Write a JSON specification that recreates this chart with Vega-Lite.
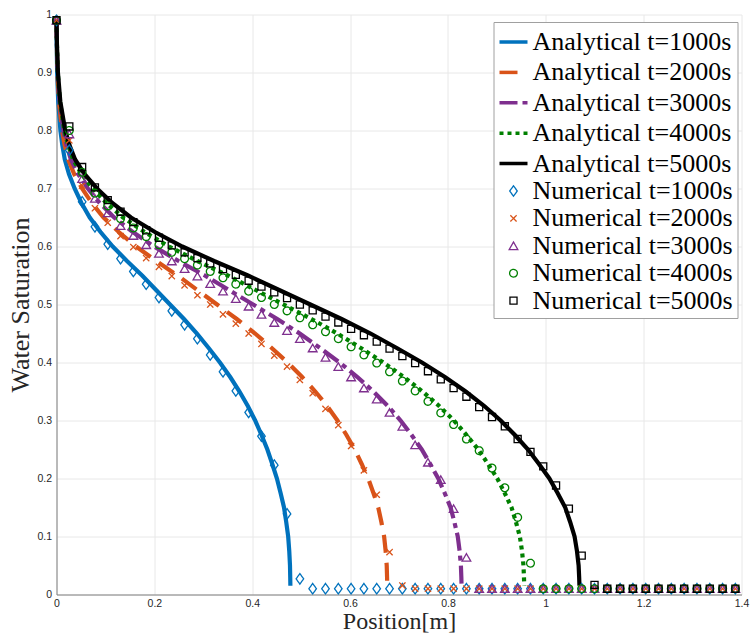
{
  "$schema": "https://vega.github.io/schema/vega-lite/v6.json",
  "width": 685,
  "height": 580,
  "autosize": "none",
  "padding": {"left": 56.5, "top": 14.5, "right": 9.5, "bottom": 41},
  "background": "white",
  "config": {
    "view": {"stroke": null},
    "legend": {
      "orient": "none", "legendX": 437, "legendY": 7.5,
      "labelFont": "Liberation Serif", "labelFontSize": 26, "labelColor": "black",
      "strokeColor": "#a0a0a0", "fillColor": "white", "padding": 4, "rowPadding": 1.4,
      "labelOffset": 3, "labelLimit": 400
    }
  },
  "datasets": {
    "ana": [
      {"k":"Analytical t=1000s","x":0,"s":0.99},{"k":"Analytical t=1000s","x":0.0004,"s":0.95},{"k":"Analytical t=1000s","x":0.0013,"s":0.9},{"k":"Analytical t=1000s","x":0.0035,"s":0.85},{"k":"Analytical t=1000s","x":0.008,"s":0.8},{"k":"Analytical t=1000s","x":0.0118,"s":0.775},{"k":"Analytical t=1000s","x":0.017,"s":0.75},{"k":"Analytical t=1000s","x":0.0255,"s":0.725},{"k":"Analytical t=1000s","x":0.037,"s":0.7},{"k":"Analytical t=1000s","x":0.051,"s":0.675},{"k":"Analytical t=1000s","x":0.068,"s":0.65},{"k":"Analytical t=1000s","x":0.09,"s":0.625},{"k":"Analytical t=1000s","x":0.115,"s":0.6},{"k":"Analytical t=1000s","x":0.144,"s":0.575},{"k":"Analytical t=1000s","x":0.175,"s":0.55},{"k":"Analytical t=1000s","x":0.2035,"s":0.525},{"k":"Analytical t=1000s","x":0.232,"s":0.5},{"k":"Analytical t=1000s","x":0.2605,"s":0.475},{"k":"Analytical t=1000s","x":0.287,"s":0.45},{"k":"Analytical t=1000s","x":0.311,"s":0.425},{"k":"Analytical t=1000s","x":0.334,"s":0.4},{"k":"Analytical t=1000s","x":0.355,"s":0.375},{"k":"Analytical t=1000s","x":0.374,"s":0.35},{"k":"Analytical t=1000s","x":0.391,"s":0.325},{"k":"Analytical t=1000s","x":0.406,"s":0.3},{"k":"Analytical t=1000s","x":0.419,"s":0.275},{"k":"Analytical t=1000s","x":0.431,"s":0.25},{"k":"Analytical t=1000s","x":0.441,"s":0.225},{"k":"Analytical t=1000s","x":0.4505,"s":0.2},{"k":"Analytical t=1000s","x":0.458,"s":0.175},{"k":"Analytical t=1000s","x":0.465,"s":0.15},{"k":"Analytical t=1000s","x":0.4695,"s":0.125},{"k":"Analytical t=1000s","x":0.4735,"s":0.1},{"k":"Analytical t=1000s","x":0.4757,"s":0.075},{"k":"Analytical t=1000s","x":0.4772,"s":0.05},{"k":"Analytical t=1000s","x":0.4777,"s":0.03},{"k":"Analytical t=1000s","x":0.478,"s":0.015},
      {"k":"Analytical t=2000s","x":0,"s":0.99},{"k":"Analytical t=2000s","x":0.0006,"s":0.95},{"k":"Analytical t=2000s","x":0.0018,"s":0.9},{"k":"Analytical t=2000s","x":0.0049,"s":0.85},{"k":"Analytical t=2000s","x":0.0113,"s":0.8},{"k":"Analytical t=2000s","x":0.0167,"s":0.775},{"k":"Analytical t=2000s","x":0.024,"s":0.75},{"k":"Analytical t=2000s","x":0.0361,"s":0.725},{"k":"Analytical t=2000s","x":0.0523,"s":0.7},{"k":"Analytical t=2000s","x":0.0721,"s":0.675},{"k":"Analytical t=2000s","x":0.0962,"s":0.65},{"k":"Analytical t=2000s","x":0.1273,"s":0.625},{"k":"Analytical t=2000s","x":0.1626,"s":0.6},{"k":"Analytical t=2000s","x":0.2036,"s":0.575},{"k":"Analytical t=2000s","x":0.2475,"s":0.55},{"k":"Analytical t=2000s","x":0.2878,"s":0.525},{"k":"Analytical t=2000s","x":0.3281,"s":0.5},{"k":"Analytical t=2000s","x":0.3684,"s":0.475},{"k":"Analytical t=2000s","x":0.4059,"s":0.45},{"k":"Analytical t=2000s","x":0.4398,"s":0.425},{"k":"Analytical t=2000s","x":0.4723,"s":0.4},{"k":"Analytical t=2000s","x":0.502,"s":0.375},{"k":"Analytical t=2000s","x":0.5289,"s":0.35},{"k":"Analytical t=2000s","x":0.553,"s":0.325},{"k":"Analytical t=2000s","x":0.5742,"s":0.3},{"k":"Analytical t=2000s","x":0.5926,"s":0.275},{"k":"Analytical t=2000s","x":0.6095,"s":0.25},{"k":"Analytical t=2000s","x":0.6237,"s":0.225},{"k":"Analytical t=2000s","x":0.6371,"s":0.2},{"k":"Analytical t=2000s","x":0.6477,"s":0.175},{"k":"Analytical t=2000s","x":0.6576,"s":0.15},{"k":"Analytical t=2000s","x":0.664,"s":0.125},{"k":"Analytical t=2000s","x":0.6696,"s":0.1},{"k":"Analytical t=2000s","x":0.6727,"s":0.075},{"k":"Analytical t=2000s","x":0.6749,"s":0.05},{"k":"Analytical t=2000s","x":0.6756,"s":0.03},{"k":"Analytical t=2000s","x":0.676,"s":0.015},
      {"k":"Analytical t=3000s","x":0,"s":0.99},{"k":"Analytical t=3000s","x":0.0007,"s":0.95},{"k":"Analytical t=3000s","x":0.0023,"s":0.9},{"k":"Analytical t=3000s","x":0.0061,"s":0.85},{"k":"Analytical t=3000s","x":0.0139,"s":0.8},{"k":"Analytical t=3000s","x":0.0204,"s":0.775},{"k":"Analytical t=3000s","x":0.0294,"s":0.75},{"k":"Analytical t=3000s","x":0.0442,"s":0.725},{"k":"Analytical t=3000s","x":0.0641,"s":0.7},{"k":"Analytical t=3000s","x":0.0883,"s":0.675},{"k":"Analytical t=3000s","x":0.1178,"s":0.65},{"k":"Analytical t=3000s","x":0.1559,"s":0.625},{"k":"Analytical t=3000s","x":0.1992,"s":0.6},{"k":"Analytical t=3000s","x":0.2494,"s":0.575},{"k":"Analytical t=3000s","x":0.3031,"s":0.55},{"k":"Analytical t=3000s","x":0.3525,"s":0.525},{"k":"Analytical t=3000s","x":0.4018,"s":0.5},{"k":"Analytical t=3000s","x":0.4512,"s":0.475},{"k":"Analytical t=3000s","x":0.4971,"s":0.45},{"k":"Analytical t=3000s","x":0.5387,"s":0.425},{"k":"Analytical t=3000s","x":0.5785,"s":0.4},{"k":"Analytical t=3000s","x":0.6149,"s":0.375},{"k":"Analytical t=3000s","x":0.6478,"s":0.35},{"k":"Analytical t=3000s","x":0.6772,"s":0.325},{"k":"Analytical t=3000s","x":0.7032,"s":0.3},{"k":"Analytical t=3000s","x":0.7257,"s":0.275},{"k":"Analytical t=3000s","x":0.7465,"s":0.25},{"k":"Analytical t=3000s","x":0.7638,"s":0.225},{"k":"Analytical t=3000s","x":0.7803,"s":0.2},{"k":"Analytical t=3000s","x":0.7933,"s":0.175},{"k":"Analytical t=3000s","x":0.8054,"s":0.15},{"k":"Analytical t=3000s","x":0.8132,"s":0.125},{"k":"Analytical t=3000s","x":0.8201,"s":0.1},{"k":"Analytical t=3000s","x":0.8239,"s":0.075},{"k":"Analytical t=3000s","x":0.8265,"s":0.05},{"k":"Analytical t=3000s","x":0.8274,"s":0.03},{"k":"Analytical t=3000s","x":0.8279,"s":0.015},
      {"k":"Analytical t=4000s","x":0,"s":0.99},{"k":"Analytical t=4000s","x":0.0008,"s":0.95},{"k":"Analytical t=4000s","x":0.0026,"s":0.9},{"k":"Analytical t=4000s","x":0.007,"s":0.85},{"k":"Analytical t=4000s","x":0.016,"s":0.8},{"k":"Analytical t=4000s","x":0.0236,"s":0.775},{"k":"Analytical t=4000s","x":0.034,"s":0.75},{"k":"Analytical t=4000s","x":0.051,"s":0.725},{"k":"Analytical t=4000s","x":0.074,"s":0.7},{"k":"Analytical t=4000s","x":0.102,"s":0.675},{"k":"Analytical t=4000s","x":0.136,"s":0.65},{"k":"Analytical t=4000s","x":0.18,"s":0.625},{"k":"Analytical t=4000s","x":0.23,"s":0.6},{"k":"Analytical t=4000s","x":0.288,"s":0.575},{"k":"Analytical t=4000s","x":0.35,"s":0.55},{"k":"Analytical t=4000s","x":0.407,"s":0.525},{"k":"Analytical t=4000s","x":0.464,"s":0.5},{"k":"Analytical t=4000s","x":0.521,"s":0.475},{"k":"Analytical t=4000s","x":0.574,"s":0.45},{"k":"Analytical t=4000s","x":0.622,"s":0.425},{"k":"Analytical t=4000s","x":0.668,"s":0.4},{"k":"Analytical t=4000s","x":0.71,"s":0.375},{"k":"Analytical t=4000s","x":0.748,"s":0.35},{"k":"Analytical t=4000s","x":0.782,"s":0.325},{"k":"Analytical t=4000s","x":0.812,"s":0.3},{"k":"Analytical t=4000s","x":0.838,"s":0.275},{"k":"Analytical t=4000s","x":0.862,"s":0.25},{"k":"Analytical t=4000s","x":0.882,"s":0.225},{"k":"Analytical t=4000s","x":0.901,"s":0.2},{"k":"Analytical t=4000s","x":0.916,"s":0.175},{"k":"Analytical t=4000s","x":0.93,"s":0.15},{"k":"Analytical t=4000s","x":0.939,"s":0.125},{"k":"Analytical t=4000s","x":0.947,"s":0.1},{"k":"Analytical t=4000s","x":0.9514,"s":0.075},{"k":"Analytical t=4000s","x":0.9544,"s":0.05},{"k":"Analytical t=4000s","x":0.9554,"s":0.03},{"k":"Analytical t=4000s","x":0.956,"s":0.015},
      {"k":"Analytical t=5000s","x":0,"s":0.99},{"k":"Analytical t=5000s","x":0.0009,"s":0.95},{"k":"Analytical t=5000s","x":0.0029,"s":0.9},{"k":"Analytical t=5000s","x":0.0078,"s":0.85},{"k":"Analytical t=5000s","x":0.0179,"s":0.8},{"k":"Analytical t=5000s","x":0.0264,"s":0.775},{"k":"Analytical t=5000s","x":0.038,"s":0.75},{"k":"Analytical t=5000s","x":0.057,"s":0.725},{"k":"Analytical t=5000s","x":0.0827,"s":0.7},{"k":"Analytical t=5000s","x":0.114,"s":0.675},{"k":"Analytical t=5000s","x":0.1521,"s":0.65},{"k":"Analytical t=5000s","x":0.2012,"s":0.625},{"k":"Analytical t=5000s","x":0.2571,"s":0.6},{"k":"Analytical t=5000s","x":0.322,"s":0.575},{"k":"Analytical t=5000s","x":0.3913,"s":0.55},{"k":"Analytical t=5000s","x":0.455,"s":0.525},{"k":"Analytical t=5000s","x":0.5188,"s":0.5},{"k":"Analytical t=5000s","x":0.5825,"s":0.475},{"k":"Analytical t=5000s","x":0.6418,"s":0.45},{"k":"Analytical t=5000s","x":0.6954,"s":0.425},{"k":"Analytical t=5000s","x":0.7469,"s":0.4},{"k":"Analytical t=5000s","x":0.7938,"s":0.375},{"k":"Analytical t=5000s","x":0.8363,"s":0.35},{"k":"Analytical t=5000s","x":0.8743,"s":0.325},{"k":"Analytical t=5000s","x":0.9078,"s":0.3},{"k":"Analytical t=5000s","x":0.9369,"s":0.275},{"k":"Analytical t=5000s","x":0.9637,"s":0.25},{"k":"Analytical t=5000s","x":0.9861,"s":0.225},{"k":"Analytical t=5000s","x":1.0073,"s":0.2},{"k":"Analytical t=5000s","x":1.0241,"s":0.175},{"k":"Analytical t=5000s","x":1.0398,"s":0.15},{"k":"Analytical t=5000s","x":1.0498,"s":0.125},{"k":"Analytical t=5000s","x":1.0588,"s":0.1},{"k":"Analytical t=5000s","x":1.0637,"s":0.075},{"k":"Analytical t=5000s","x":1.0671,"s":0.05},{"k":"Analytical t=5000s","x":1.0682,"s":0.03},{"k":"Analytical t=5000s","x":1.0688,"s":0.015}
    ],
    "num": [
      {"k":"Numerical t=1000s","x":0,"s":0.99},{"k":"Numerical t=1000s","x":0.0262,"s":0.766},{"k":"Numerical t=1000s","x":0.0524,"s":0.677},{"k":"Numerical t=1000s","x":0.0785,"s":0.634},{"k":"Numerical t=1000s","x":0.1047,"s":0.604},{"k":"Numerical t=1000s","x":0.1309,"s":0.579},{"k":"Numerical t=1000s","x":0.1571,"s":0.557},{"k":"Numerical t=1000s","x":0.1833,"s":0.535},{"k":"Numerical t=1000s","x":0.2094,"s":0.512},{"k":"Numerical t=1000s","x":0.2356,"s":0.489},{"k":"Numerical t=1000s","x":0.2618,"s":0.465},{"k":"Numerical t=1000s","x":0.288,"s":0.441},{"k":"Numerical t=1000s","x":0.3142,"s":0.413},{"k":"Numerical t=1000s","x":0.3403,"s":0.384},{"k":"Numerical t=1000s","x":0.3665,"s":0.351},{"k":"Numerical t=1000s","x":0.3927,"s":0.314},{"k":"Numerical t=1000s","x":0.4189,"s":0.273},{"k":"Numerical t=1000s","x":0.4451,"s":0.223},{"k":"Numerical t=1000s","x":0.4712,"s":0.139},{"k":"Numerical t=1000s","x":0.4974,"s":0.027},{"k":"Numerical t=1000s","x":0.5236,"s":0.01},{"k":"Numerical t=1000s","x":0.5498,"s":0.01},{"k":"Numerical t=1000s","x":0.576,"s":0.01},{"k":"Numerical t=1000s","x":0.6021,"s":0.01},{"k":"Numerical t=1000s","x":0.6283,"s":0.01},{"k":"Numerical t=1000s","x":0.6545,"s":0.01},{"k":"Numerical t=1000s","x":0.6807,"s":0.01},{"k":"Numerical t=1000s","x":0.7069,"s":0.01},{"k":"Numerical t=1000s","x":0.733,"s":0.01},{"k":"Numerical t=1000s","x":0.7592,"s":0.01},{"k":"Numerical t=1000s","x":0.7854,"s":0.01},{"k":"Numerical t=1000s","x":0.8116,"s":0.01},{"k":"Numerical t=1000s","x":0.8378,"s":0.01},{"k":"Numerical t=1000s","x":0.8639,"s":0.01},{"k":"Numerical t=1000s","x":0.8901,"s":0.01},{"k":"Numerical t=1000s","x":0.9163,"s":0.01},{"k":"Numerical t=1000s","x":0.9425,"s":0.01},{"k":"Numerical t=1000s","x":0.9687,"s":0.01},{"k":"Numerical t=1000s","x":0.9948,"s":0.01},{"k":"Numerical t=1000s","x":1.021,"s":0.01},{"k":"Numerical t=1000s","x":1.0472,"s":0.01},{"k":"Numerical t=1000s","x":1.0734,"s":0.01},{"k":"Numerical t=1000s","x":1.0996,"s":0.01},{"k":"Numerical t=1000s","x":1.1257,"s":0.01},{"k":"Numerical t=1000s","x":1.1519,"s":0.01},{"k":"Numerical t=1000s","x":1.1781,"s":0.01},{"k":"Numerical t=1000s","x":1.2043,"s":0.01},{"k":"Numerical t=1000s","x":1.2305,"s":0.01},{"k":"Numerical t=1000s","x":1.2566,"s":0.01},{"k":"Numerical t=1000s","x":1.2828,"s":0.01},{"k":"Numerical t=1000s","x":1.309,"s":0.01},{"k":"Numerical t=1000s","x":1.3352,"s":0.01},{"k":"Numerical t=1000s","x":1.3614,"s":0.01},{"k":"Numerical t=1000s","x":1.3875,"s":0.01},
      {"k":"Numerical t=2000s","x":0,"s":0.99},{"k":"Numerical t=2000s","x":0.0262,"s":0.783},{"k":"Numerical t=2000s","x":0.0524,"s":0.705},{"k":"Numerical t=2000s","x":0.0785,"s":0.666},{"k":"Numerical t=2000s","x":0.1047,"s":0.641},{"k":"Numerical t=2000s","x":0.1309,"s":0.618},{"k":"Numerical t=2000s","x":0.1571,"s":0.599},{"k":"Numerical t=2000s","x":0.1833,"s":0.58},{"k":"Numerical t=2000s","x":0.2094,"s":0.565},{"k":"Numerical t=2000s","x":0.2356,"s":0.549},{"k":"Numerical t=2000s","x":0.2618,"s":0.533},{"k":"Numerical t=2000s","x":0.288,"s":0.516},{"k":"Numerical t=2000s","x":0.3142,"s":0.5},{"k":"Numerical t=2000s","x":0.3403,"s":0.483},{"k":"Numerical t=2000s","x":0.3665,"s":0.467},{"k":"Numerical t=2000s","x":0.3927,"s":0.45},{"k":"Numerical t=2000s","x":0.4189,"s":0.432},{"k":"Numerical t=2000s","x":0.4451,"s":0.412},{"k":"Numerical t=2000s","x":0.4712,"s":0.393},{"k":"Numerical t=2000s","x":0.4974,"s":0.37},{"k":"Numerical t=2000s","x":0.5236,"s":0.347},{"k":"Numerical t=2000s","x":0.5498,"s":0.32},{"k":"Numerical t=2000s","x":0.576,"s":0.292},{"k":"Numerical t=2000s","x":0.6021,"s":0.256},{"k":"Numerical t=2000s","x":0.6283,"s":0.214},{"k":"Numerical t=2000s","x":0.6545,"s":0.172},{"k":"Numerical t=2000s","x":0.6807,"s":0.073},{"k":"Numerical t=2000s","x":0.7069,"s":0.0155},{"k":"Numerical t=2000s","x":0.733,"s":0.01},{"k":"Numerical t=2000s","x":0.7592,"s":0.01},{"k":"Numerical t=2000s","x":0.7854,"s":0.01},{"k":"Numerical t=2000s","x":0.8116,"s":0.01},{"k":"Numerical t=2000s","x":0.8378,"s":0.01},{"k":"Numerical t=2000s","x":0.8639,"s":0.01},{"k":"Numerical t=2000s","x":0.8901,"s":0.01},{"k":"Numerical t=2000s","x":0.9163,"s":0.01},{"k":"Numerical t=2000s","x":0.9425,"s":0.01},{"k":"Numerical t=2000s","x":0.9687,"s":0.01},{"k":"Numerical t=2000s","x":0.9948,"s":0.01},{"k":"Numerical t=2000s","x":1.021,"s":0.01},{"k":"Numerical t=2000s","x":1.0472,"s":0.01},{"k":"Numerical t=2000s","x":1.0734,"s":0.01},{"k":"Numerical t=2000s","x":1.0996,"s":0.01},{"k":"Numerical t=2000s","x":1.1257,"s":0.01},{"k":"Numerical t=2000s","x":1.1519,"s":0.01},{"k":"Numerical t=2000s","x":1.1781,"s":0.01},{"k":"Numerical t=2000s","x":1.2043,"s":0.01},{"k":"Numerical t=2000s","x":1.2305,"s":0.01},{"k":"Numerical t=2000s","x":1.2566,"s":0.01},{"k":"Numerical t=2000s","x":1.2828,"s":0.01},{"k":"Numerical t=2000s","x":1.309,"s":0.01},{"k":"Numerical t=2000s","x":1.3352,"s":0.01},{"k":"Numerical t=2000s","x":1.3614,"s":0.01},{"k":"Numerical t=2000s","x":1.3875,"s":0.01},
      {"k":"Numerical t=3000s","x":0,"s":0.99},{"k":"Numerical t=3000s","x":0.0262,"s":0.794},{"k":"Numerical t=3000s","x":0.0524,"s":0.717},{"k":"Numerical t=3000s","x":0.0785,"s":0.683},{"k":"Numerical t=3000s","x":0.1047,"s":0.658},{"k":"Numerical t=3000s","x":0.1309,"s":0.636},{"k":"Numerical t=3000s","x":0.1571,"s":0.619},{"k":"Numerical t=3000s","x":0.1833,"s":0.603},{"k":"Numerical t=3000s","x":0.2094,"s":0.588},{"k":"Numerical t=3000s","x":0.2356,"s":0.575},{"k":"Numerical t=3000s","x":0.2618,"s":0.562},{"k":"Numerical t=3000s","x":0.288,"s":0.549},{"k":"Numerical t=3000s","x":0.3142,"s":0.536},{"k":"Numerical t=3000s","x":0.3403,"s":0.523},{"k":"Numerical t=3000s","x":0.3665,"s":0.51},{"k":"Numerical t=3000s","x":0.3927,"s":0.497},{"k":"Numerical t=3000s","x":0.4189,"s":0.483},{"k":"Numerical t=3000s","x":0.4451,"s":0.469},{"k":"Numerical t=3000s","x":0.4712,"s":0.455},{"k":"Numerical t=3000s","x":0.4974,"s":0.441},{"k":"Numerical t=3000s","x":0.5236,"s":0.425},{"k":"Numerical t=3000s","x":0.5498,"s":0.409},{"k":"Numerical t=3000s","x":0.576,"s":0.393},{"k":"Numerical t=3000s","x":0.6021,"s":0.375},{"k":"Numerical t=3000s","x":0.6283,"s":0.356},{"k":"Numerical t=3000s","x":0.6545,"s":0.337},{"k":"Numerical t=3000s","x":0.6807,"s":0.314},{"k":"Numerical t=3000s","x":0.7069,"s":0.29},{"k":"Numerical t=3000s","x":0.733,"s":0.258},{"k":"Numerical t=3000s","x":0.7592,"s":0.228},{"k":"Numerical t=3000s","x":0.7854,"s":0.198},{"k":"Numerical t=3000s","x":0.8116,"s":0.148},{"k":"Numerical t=3000s","x":0.8378,"s":0.064},{"k":"Numerical t=3000s","x":0.8639,"s":0.01},{"k":"Numerical t=3000s","x":0.8901,"s":0.01},{"k":"Numerical t=3000s","x":0.9163,"s":0.01},{"k":"Numerical t=3000s","x":0.9425,"s":0.01},{"k":"Numerical t=3000s","x":0.9687,"s":0.01},{"k":"Numerical t=3000s","x":0.9948,"s":0.01},{"k":"Numerical t=3000s","x":1.021,"s":0.01},{"k":"Numerical t=3000s","x":1.0472,"s":0.01},{"k":"Numerical t=3000s","x":1.0734,"s":0.01},{"k":"Numerical t=3000s","x":1.0996,"s":0.01},{"k":"Numerical t=3000s","x":1.1257,"s":0.01},{"k":"Numerical t=3000s","x":1.1519,"s":0.01},{"k":"Numerical t=3000s","x":1.1781,"s":0.01},{"k":"Numerical t=3000s","x":1.2043,"s":0.01},{"k":"Numerical t=3000s","x":1.2305,"s":0.01},{"k":"Numerical t=3000s","x":1.2566,"s":0.01},{"k":"Numerical t=3000s","x":1.2828,"s":0.01},{"k":"Numerical t=3000s","x":1.309,"s":0.01},{"k":"Numerical t=3000s","x":1.3352,"s":0.01},{"k":"Numerical t=3000s","x":1.3614,"s":0.01},{"k":"Numerical t=3000s","x":1.3875,"s":0.01},
      {"k":"Numerical t=4000s","x":0,"s":0.99},{"k":"Numerical t=4000s","x":0.0262,"s":0.8},{"k":"Numerical t=4000s","x":0.0524,"s":0.728},{"k":"Numerical t=4000s","x":0.0785,"s":0.692},{"k":"Numerical t=4000s","x":0.1047,"s":0.67},{"k":"Numerical t=4000s","x":0.1309,"s":0.648},{"k":"Numerical t=4000s","x":0.1571,"s":0.632},{"k":"Numerical t=4000s","x":0.1833,"s":0.617},{"k":"Numerical t=4000s","x":0.2094,"s":0.603},{"k":"Numerical t=4000s","x":0.2356,"s":0.59},{"k":"Numerical t=4000s","x":0.2618,"s":0.579},{"k":"Numerical t=4000s","x":0.288,"s":0.568},{"k":"Numerical t=4000s","x":0.3142,"s":0.557},{"k":"Numerical t=4000s","x":0.3403,"s":0.546},{"k":"Numerical t=4000s","x":0.3665,"s":0.535},{"k":"Numerical t=4000s","x":0.3927,"s":0.523},{"k":"Numerical t=4000s","x":0.4189,"s":0.512},{"k":"Numerical t=4000s","x":0.4451,"s":0.5},{"k":"Numerical t=4000s","x":0.4712,"s":0.489},{"k":"Numerical t=4000s","x":0.4974,"s":0.477},{"k":"Numerical t=4000s","x":0.5236,"s":0.465},{"k":"Numerical t=4000s","x":0.5498,"s":0.453},{"k":"Numerical t=4000s","x":0.576,"s":0.441},{"k":"Numerical t=4000s","x":0.6021,"s":0.427},{"k":"Numerical t=4000s","x":0.6283,"s":0.413},{"k":"Numerical t=4000s","x":0.6545,"s":0.399},{"k":"Numerical t=4000s","x":0.6807,"s":0.384},{"k":"Numerical t=4000s","x":0.7069,"s":0.368},{"k":"Numerical t=4000s","x":0.733,"s":0.351},{"k":"Numerical t=4000s","x":0.7592,"s":0.333},{"k":"Numerical t=4000s","x":0.7854,"s":0.313},{"k":"Numerical t=4000s","x":0.8116,"s":0.293},{"k":"Numerical t=4000s","x":0.8378,"s":0.268},{"k":"Numerical t=4000s","x":0.8639,"s":0.248},{"k":"Numerical t=4000s","x":0.8901,"s":0.218},{"k":"Numerical t=4000s","x":0.9163,"s":0.184},{"k":"Numerical t=4000s","x":0.9425,"s":0.133},{"k":"Numerical t=4000s","x":0.9687,"s":0.054},{"k":"Numerical t=4000s","x":0.9948,"s":0.01},{"k":"Numerical t=4000s","x":1.021,"s":0.01},{"k":"Numerical t=4000s","x":1.0472,"s":0.01},{"k":"Numerical t=4000s","x":1.0734,"s":0.01},{"k":"Numerical t=4000s","x":1.0996,"s":0.01},{"k":"Numerical t=4000s","x":1.1257,"s":0.01},{"k":"Numerical t=4000s","x":1.1519,"s":0.01},{"k":"Numerical t=4000s","x":1.1781,"s":0.01},{"k":"Numerical t=4000s","x":1.2043,"s":0.01},{"k":"Numerical t=4000s","x":1.2305,"s":0.01},{"k":"Numerical t=4000s","x":1.2566,"s":0.01},{"k":"Numerical t=4000s","x":1.2828,"s":0.01},{"k":"Numerical t=4000s","x":1.309,"s":0.01},{"k":"Numerical t=4000s","x":1.3352,"s":0.01},{"k":"Numerical t=4000s","x":1.3614,"s":0.01},{"k":"Numerical t=4000s","x":1.3875,"s":0.01},
      {"k":"Numerical t=5000s","x":0,"s":0.99},{"k":"Numerical t=5000s","x":0.0262,"s":0.807},{"k":"Numerical t=5000s","x":0.0524,"s":0.737},{"k":"Numerical t=5000s","x":0.0785,"s":0.702},{"k":"Numerical t=5000s","x":0.1047,"s":0.68},{"k":"Numerical t=5000s","x":0.1309,"s":0.66},{"k":"Numerical t=5000s","x":0.1571,"s":0.642},{"k":"Numerical t=5000s","x":0.1833,"s":0.628},{"k":"Numerical t=5000s","x":0.2094,"s":0.615},{"k":"Numerical t=5000s","x":0.2356,"s":0.602},{"k":"Numerical t=5000s","x":0.2618,"s":0.59},{"k":"Numerical t=5000s","x":0.288,"s":0.58},{"k":"Numerical t=5000s","x":0.3142,"s":0.571},{"k":"Numerical t=5000s","x":0.3403,"s":0.561},{"k":"Numerical t=5000s","x":0.3665,"s":0.551},{"k":"Numerical t=5000s","x":0.3927,"s":0.541},{"k":"Numerical t=5000s","x":0.4189,"s":0.531},{"k":"Numerical t=5000s","x":0.4451,"s":0.521},{"k":"Numerical t=5000s","x":0.4712,"s":0.511},{"k":"Numerical t=5000s","x":0.4974,"s":0.5},{"k":"Numerical t=5000s","x":0.5236,"s":0.49},{"k":"Numerical t=5000s","x":0.5498,"s":0.479},{"k":"Numerical t=5000s","x":0.576,"s":0.469},{"k":"Numerical t=5000s","x":0.6021,"s":0.458},{"k":"Numerical t=5000s","x":0.6283,"s":0.447},{"k":"Numerical t=5000s","x":0.6545,"s":0.436},{"k":"Numerical t=5000s","x":0.6807,"s":0.424},{"k":"Numerical t=5000s","x":0.7069,"s":0.411},{"k":"Numerical t=5000s","x":0.733,"s":0.399},{"k":"Numerical t=5000s","x":0.7592,"s":0.385},{"k":"Numerical t=5000s","x":0.7854,"s":0.371},{"k":"Numerical t=5000s","x":0.8116,"s":0.356},{"k":"Numerical t=5000s","x":0.8378,"s":0.341},{"k":"Numerical t=5000s","x":0.8639,"s":0.323},{"k":"Numerical t=5000s","x":0.8901,"s":0.306},{"k":"Numerical t=5000s","x":0.9163,"s":0.29},{"k":"Numerical t=5000s","x":0.9425,"s":0.268},{"k":"Numerical t=5000s","x":0.9687,"s":0.246},{"k":"Numerical t=5000s","x":0.9948,"s":0.221},{"k":"Numerical t=5000s","x":1.021,"s":0.188},{"k":"Numerical t=5000s","x":1.0472,"s":0.148},{"k":"Numerical t=5000s","x":1.0734,"s":0.067},{"k":"Numerical t=5000s","x":1.0996,"s":0.0167},{"k":"Numerical t=5000s","x":1.1257,"s":0.01},{"k":"Numerical t=5000s","x":1.1519,"s":0.01},{"k":"Numerical t=5000s","x":1.1781,"s":0.01},{"k":"Numerical t=5000s","x":1.2043,"s":0.01},{"k":"Numerical t=5000s","x":1.2305,"s":0.01},{"k":"Numerical t=5000s","x":1.2566,"s":0.01},{"k":"Numerical t=5000s","x":1.2828,"s":0.01},{"k":"Numerical t=5000s","x":1.309,"s":0.01},{"k":"Numerical t=5000s","x":1.3352,"s":0.01},{"k":"Numerical t=5000s","x":1.3614,"s":0.01},{"k":"Numerical t=5000s","x":1.3875,"s":0.01}
    ]
  },
  "encoding": {
    "x": {"field": "x", "type": "quantitative",
      "scale": {"domain": [0, 1.4], "nice": false, "zero": false},
      "axis": {"title": "Position[m]", "values": [0, 0.2, 0.4, 0.6, 0.8, 1, 1.2, 1.4], "format": "~g",
        "titleFont": "Liberation Serif", "titleFontSize": 24, "titleFontWeight": "normal", "titleColor": "#262626", "titlePadding": 0,
        "labelFont": "Liberation Sans", "labelFontSize": 10.5, "labelColor": "#262626", "labelPadding": 4,
        "ticks": false, "grid": true, "gridColor": "#e8e8e8", "domainColor": "#808080", "labelFlush": false}},
    "y": {"field": "s", "type": "quantitative",
      "scale": {"domain": [0, 1], "nice": false},
      "axis": {"title": "Water Saturation", "values": [0, 0.1, 0.2, 0.3, 0.4, 0.5, 0.6, 0.7, 0.8, 0.9, 1], "format": "~g",
        "titleFont": "Liberation Serif", "titleFontSize": 26, "titleFontWeight": "normal", "titleColor": "#262626", "titlePadding": 3,
        "labelFont": "Liberation Sans", "labelFontSize": 10.5, "labelColor": "#262626", "labelPadding": 5,
        "ticks": false, "grid": true, "gridColor": "#e8e8e8", "domainColor": "#808080"}}
  },
  "layer": [
    {"data": {"name": "ana"}, "transform": [{"filter": {"field": "k", "equal": "Analytical t=1000s"}}],
     "mark": {"type": "line", "color": "#0072BD", "strokeWidth": 4.2, "strokeCap": "butt"}, "encoding": {}},
    {"data": {"name": "ana"}, "transform": [{"filter": {"field": "k", "equal": "Analytical t=2000s"}}],
     "mark": {"type": "line", "color": "#D95319", "strokeWidth": 4.2, "strokeCap": "butt", "strokeDash": [18, 10]}, "encoding": {}},
    {"data": {"name": "ana"}, "transform": [{"filter": {"field": "k", "equal": "Analytical t=3000s"}}],
     "mark": {"type": "line", "color": "#7E2F8E", "strokeWidth": 4.2, "strokeCap": "butt", "strokeDash": [18, 5, 5, 5]}, "encoding": {}},
    {"data": {"name": "ana"}, "transform": [{"filter": {"field": "k", "equal": "Analytical t=4000s"}}],
     "mark": {"type": "line", "color": "#008000", "strokeWidth": 4.2, "strokeCap": "butt", "strokeDash": [4, 4]}, "encoding": {}},
    {"data": {"name": "ana"}, "transform": [{"filter": {"field": "k", "equal": "Analytical t=5000s"}}],
     "mark": {"type": "line", "color": "#000000", "strokeWidth": 4.2, "strokeCap": "butt"}, "encoding": {}},
    {
      "data": {"name": "num"},
      "mark": {"type": "point", "filled": false, "opacity": 1},
      "encoding": {
        "color": {"field": "k", "type": "ordinal", "title": null,
          "scale": {"domain": ["Analytical t=1000s","Analytical t=2000s","Analytical t=3000s","Analytical t=4000s","Analytical t=5000s","Numerical t=1000s","Numerical t=2000s","Numerical t=3000s","Numerical t=4000s","Numerical t=5000s"],
            "range": ["#0072BD","#D95319","#7E2F8E","#008000","#000000","#0072BD","#D95319","#7E2F8E","#008000","#000000"]}},
        "shape": {"field": "k", "type": "ordinal", "title": null,
          "scale": {"domain": ["Analytical t=1000s","Analytical t=2000s","Analytical t=3000s","Analytical t=4000s","Analytical t=5000s","Numerical t=1000s","Numerical t=2000s","Numerical t=3000s","Numerical t=4000s","Numerical t=5000s"],
            "range": ["stroke","stroke","stroke","stroke","stroke","M0,-1L0.72,0L0,1L-0.72,0Z","M-0.7,-0.7L0.7,0.7M-0.7,0.7L0.7,-0.7","triangle-up","circle","square"]}},
        "strokeDash": {"field": "k", "type": "ordinal", "title": null,
          "scale": {"domain": ["Analytical t=1000s","Analytical t=2000s","Analytical t=3000s","Analytical t=4000s","Analytical t=5000s","Numerical t=1000s","Numerical t=2000s","Numerical t=3000s","Numerical t=4000s","Numerical t=5000s"],
            "range": [[1,0],[18,10],[18,5,5,5],[4,4],[1,0],[1,0],[1,0],[1,0],[1,0],[1,0]]}},
        "size": {"field": "k", "type": "ordinal", "title": null,
          "scale": {"type": "ordinal", "domain": ["Analytical t=1000s","Analytical t=2000s","Analytical t=3000s","Analytical t=4000s","Analytical t=5000s","Numerical t=1000s","Numerical t=2000s","Numerical t=3000s","Numerical t=4000s","Numerical t=5000s"],
            "range": [784,784,784,784,784,110,80,75,60,50]}},
        "strokeWidth": {"field": "k", "type": "ordinal", "title": null,
          "scale": {"type": "ordinal", "domain": ["Analytical t=1000s","Analytical t=2000s","Analytical t=3000s","Analytical t=4000s","Analytical t=5000s","Numerical t=1000s","Numerical t=2000s","Numerical t=3000s","Numerical t=4000s","Numerical t=5000s"],
            "range": [3.5,3.5,3.5,3.5,3.5,1.3,1.3,1.3,1.3,1.3]}}
      }
    }
  ]
}
